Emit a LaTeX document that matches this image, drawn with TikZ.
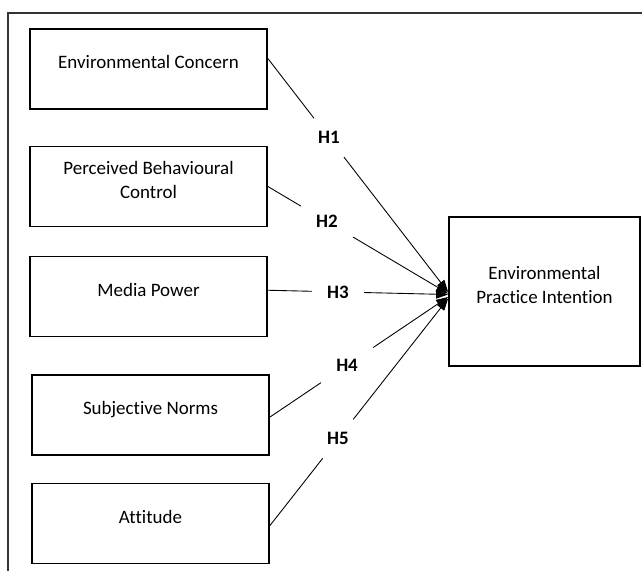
\documentclass[tikz,border=0pt]{standalone}
\usepackage{fontspec}
\setmainfont{Carlito}[Ligatures={NoCommon}]
\usetikzlibrary{arrows.meta,calc}

\begin{document}
\begin{tikzpicture}[x=0.25mm, y=-0.25mm,
        box/.style={draw, line width=0.45mm, minimum width=59.25mm, minimum height=20mm,
            align=center, text depth=3.3mm, font=\fontsize{13.5}{17.7}\selectfont},
        hyp/.style={inner xsep=3.75mm, inner ysep=3.25mm, font=\fontsize{13.5}{16}\selectfont\bfseries},
        link/.style={line width=0.22mm},
        arr/.style={line width=0.22mm, -{Triangle[length=3mm, width=2.2mm]}}]
            \useasboundingbox (0,0) rectangle (642,570);
            % frame, only top and left edges are in view
            \draw[line width=0.35mm, black!80] (8,572) -- (8,13) -- (644,13);
            % the five predictors
            \node[box] (ec) at (148.5,69) {Environmental Concern};
            \node[box] (pbc) at (148.5,186.5) {Perceived Behavioural\\Control};
            \node[box] (mp) at (148.5,296.5) {Media Power};
            \node[box] (sn) at (150.5,415) {Subjective Norms};
            \node[box] (att) at (150.5,523.5) {Attitude};
            % outcome
            \node[box, minimum width=47.75mm, minimum height=37.25mm] (epi) at (544.5,291.5) {Environmental\\Practice Intention};
            \coordinate (t1) at ($(epi.west)+(0,0.5)$);
            \coordinate (t2) at ($(epi.west)+(0,2)$);
            \coordinate (t3) at ($(epi.west)+(0,3)$);
            \coordinate (t4) at ($(epi.west)+(0,5.5)$);
            \coordinate (t5) at ($(epi.west)+(0,7)$);
            % hypotheses
            \node[hyp] (h1) at ($(ec.5)!0.339!(t1)$) {H1};
            \node[hyp] (h2) at ($(pbc.east)!0.328!(t2)$) {H2};
            \node[hyp] (h3) at ($(mp.3.5)!0.389!(t3)$) {H3};
            \node[hyp] (h4) at ($(sn.-1.5)!0.433!(t4)$) {H4};
            \node[hyp] (h5) at ($(att.-1.7)!0.382!(t5)$) {H5};
            \draw[link] (ec.5) -- (h1);
            \draw[arr] (h1) -- (t1);
            \draw[link] (pbc.east) -- (h2);
            \draw[arr] (h2) -- (t2);
            \draw[link] (mp.3.5) -- (h3);
            \draw[arr] (h3) -- (t3);
            \draw[link] (sn.-1.5) -- (h4);
            \draw[arr] (h4) -- (t4);
            \draw[link] (att.-1.7) -- (h5);
            \draw[arr] (h5) -- (t5);
        \end{tikzpicture}
\end{document}
